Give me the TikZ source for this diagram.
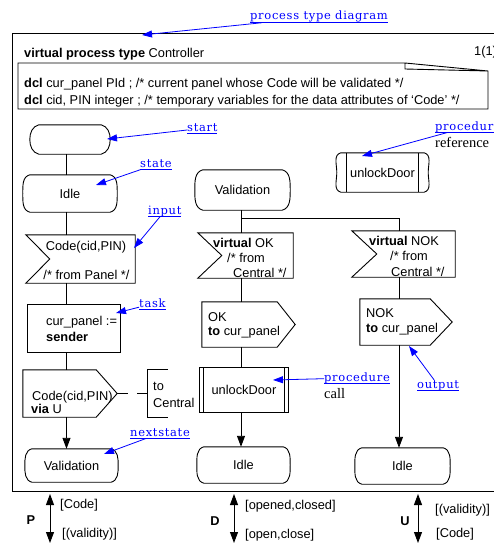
\documentclass[tikz,border=0pt]{standalone}
\usepackage{fontspec}
\setmainfont{Liberation Sans}
\newfontfamily\linkfont[LetterSpace=6]{DejaVu Serif}
\newfontfamily\notefont{Liberation Serif}
\usetikzlibrary{arrows.meta,calc}

% underlined hyperlink-like text
\newlength\lnkwd
\newcommand\lnk[1]{\settowidth\lnkwd{#1}\rlap{\rule[-2.4pt]{\lnkwd}{0.8pt}}#1}

% SDL symbol outlines drawn around invisible nodes
\newcommand\stateoutline[2]{%
  \draw[outline] ([xshift=#2]#1.north west) to[out=195,in=90] (#1.west)
    to[out=-90,in=165] ([xshift=#2]#1.south west) -- ([xshift=-#2]#1.south east)
    to[out=15,in=-90] (#1.east) to[out=90,in=-15] ([xshift=-#2]#1.north east) -- cycle;}
\newcommand\inputoutline[2]{%
  \draw[outline] (#1.north west) -- (#1.north east) -- (#1.south east)
    -- (#1.south west) -- ([xshift=#2]#1.west) -- cycle;}
\newcommand\outputoutline[2]{%
  \draw[outline] (#1.north west) -- ([xshift=-#2]#1.north east) -- (#1.east)
    -- ([xshift=-#2]#1.south east) -- (#1.south west) -- cycle;}

\tikzset{
  lbl/.style={inner sep=0pt, font=\fontsize{12.8}{15}\selectfont},
  sym/.style={draw=none, inner sep=0pt},
  link/.style={inner sep=0pt, text=blue, anchor=base west,
    font=\linkfont\fontsize{11.5}{14}\selectfont},
  note/.style={inner sep=0pt, anchor=base west, font=\notefont\fontsize{14.5}{17}\selectfont},
  pointer/.style={draw=blue, line width=0.8pt, -{Triangle[width=7pt,length=10pt]}},
  outline/.style={line width=0.9pt},
  flow/.style={line width=0.9pt},
  flowarrow/.style={flow, -{Triangle[width=8pt,length=11pt]}},
  chan/.style={flow, {Triangle[width=8pt,length=11pt]}-{Triangle[width=8pt,length=11pt]}},
}

\begin{document}
\begin{tikzpicture}[x=1pt,y=-1pt]
\useasboundingbox (0,0) rectangle (493,543);

% diagram frame
\draw[outline] (500,33) -- (12,33) -- (12,491.5) -- (500,491.5);
\node[lbl, anchor=base west] (hdr) at (24,57) {\textbf{virtual process type} Controller};
\node[lbl, anchor=base west] (pgno) at (474,56) {1(1)};

% declarations in a text symbol
\draw[outline] (405,63) -- (18,63) -- (18,109) -- (488,109) -- (488,71) -- (405,63) -- (405,69) -- (488,71);
\node[lbl, anchor=base west] (dclA) at (24,87) {\textbf{dcl} cur\_panel PId ; /* current panel whose Code will be validated */};
\node[lbl, anchor=base west] (dclB) at (24,104) {\textbf{dcl} cid, PIN integer ; /* temporary variables for the data attributes of `Code' */};

% column axes
\coordinate (colA) at (66.5,0);
\coordinate (colB) at (241,0);
\coordinate (colC) at (399,0);

% ---- first transition: Idle --Code--> Validation
\node[sym, minimum width=80, minimum height=29] (start) at (70,139.5) {};
\stateoutline{start}{9}

\node[sym, lbl, minimum width=94, minimum height=37] (idleA) at (70,193.5) {Idle};
\stateoutline{idleA}{7}

\node[sym, minimum width=109, minimum height=48] (inA) at (80.5,259) {};
\inputoutline{inA}{24}
\node[lbl, anchor=base] (inAa) at (86,250) {Code(cid,PIN)};
\node[lbl, anchor=base] (inAb) at (86.5,279) {/* from Panel */};

\node[sym, minimum width=92, minimum height=47] (task) at (74,328.5) {};
\draw[outline] (task.north west) rectangle (task.south east);
\node[lbl, anchor=base west] (taskA) at (46,325) {cur\_panel :=};
\node[lbl, anchor=base west] (taskB) at (46,341) {\textbf{sender}};

\node[sym, minimum width=94, minimum height=47] (outA) at (70,393.5) {};
\outputoutline{outA}{21}
\node[lbl, anchor=base west] (outAa) at (32,400) {Code(cid,PIN)};
\node[lbl, anchor=base west] (outAb) at (31,413) {\textbf{via} U};

\node[sym, minimum width=20, minimum height=47] (cmt) at (158,393.5) {};
\draw[outline] (cmt.north east) -- (cmt.north west) -- (cmt.south west) -- (cmt.south east);
\node[lbl, anchor=base west] (cmtA) at (153,390) {to};
\node[lbl, anchor=base west] (cmtB) at (153,407) {Central};
\draw[flow, dash pattern=on 11pt off 9pt] (outA.east) -- (cmt.west);

\node[sym, lbl, minimum width=93, minimum height=33] (nsA) at (71.5,465.5) {Validation};
\stateoutline{nsA}{7}

\draw[flow] (start.south -| colA) -- (idleA.north -| colA);
\draw[flow] (idleA.south -| colA) -- (inA.north -| colA);
\draw[flow] (inA.south -| colA) -- (task.north -| colA);
\draw[flow] (task.south -| colA) -- (outA.north -| colA);
\draw[flowarrow] (outA.south -| colA) -- (nsA.north -| colA);

% ---- second transition: Validation --OK / NOK-->
\node[sym, lbl, minimum width=95, minimum height=40] (valB) at (242.5,190) {Validation};
\stateoutline{valB}{8}

\node[sym, minimum width=95, minimum height=45] (okIn) at (245.5,255.5) {};
\inputoutline{okIn}{24}
\node[lbl, anchor=base west] (okA) at (213,247) {\textbf{virtual} OK};
\node[lbl, anchor=base west] (okB) at (227,262) {/* from};
\node[lbl, anchor=base west] (okC) at (233,277) {Central */};

\node[sym, minimum width=103, minimum height=46] (nokIn) at (403.5,254) {};
\inputoutline{nokIn}{25}
\node[lbl, anchor=base west] (nokA) at (369,245) {\textbf{virtual} NOK};
\node[lbl, anchor=base west] (nokB) at (390,260) {/* from};
\node[lbl, anchor=base west] (nokC) at (391,276) {Central */};

\node[sym, minimum width=93, minimum height=45] (okOut) at (248.5,324.5) {};
\outputoutline{okOut}{18}
\node[lbl, anchor=base west] (okOa) at (208,321) {OK};
\node[lbl, anchor=base west] (okOb) at (208,335) {\textbf{to} cur\_panel};

\node[sym, minimum width=92, minimum height=46] (nokOut) at (406,322) {};
\outputoutline{nokOut}{22}
\node[lbl, anchor=base west] (nokOa) at (366,317) {NOK};
\node[lbl, anchor=base west] (nokOb) at (366,332) {\textbf{to} cur\_panel};

\node[sym, lbl, minimum width=88, minimum height=44] (callB) at (244,390) {unlockDoor};
\draw[outline] (callB.north west) rectangle (callB.south east);
\draw[outline] ([xshift=3.3]callB.north west) -- ([xshift=3.3]callB.south west);
\draw[outline] ([xshift=-3.3]callB.north east) -- ([xshift=-3.3]callB.south east);

\node[sym, lbl, minimum width=93, minimum height=36] (idleB) at (243.5,465) {Idle};
\stateoutline{idleB}{7}
\node[sym, lbl, minimum width=95, minimum height=36] (idleC) at (402.5,466) {Idle};
\stateoutline{idleC}{7}

\node[sym, lbl, minimum width=91, minimum height=39] (prefB) at (382.5,172.5) {unlockDoor};
\stateoutline{prefB}{4}
\draw[outline] ([xshift=10]prefB.north west) -- ([xshift=10]prefB.south west);
\draw[outline] ([xshift=-10]prefB.north east) -- ([xshift=-10]prefB.south east);

\coordinate (fork) at (241,218);
\draw[flow] (valB.south -| colB) -- (okIn.north -| colB);
\draw[flow] (fork) -| (nokIn.north -| colC);
\draw[flow] (okIn.south -| colB) -- (okOut.north -| colB);
\draw[flow] (okOut.south -| colB) -- (callB.north -| colB);
\draw[flowarrow] (callB.south -| colB) -- (idleB.north -| colB);
\draw[flow] (nokIn.south -| colC) -- (nokOut.north -| colC);
\draw[flowarrow] (nokOut.south -| colC) -- (idleC.north -| colC);

% ---- explanatory links
\node[link] (lkPTD) at (250,20) {\lnk{process type diagram}};
\node[link] (lkStart) at (187,131) {\lnk{start}};
\node[link] (lkState) at (140,167) {\lnk{state}};
\node[link] (lkInput) at (148,214) {\lnk{input}};
\node[link] (lkTask) at (139,307) {\lnk{task}};
\node[link] (lkNext) at (130,436) {\lnk{nextstate}};
\node[link] (lkCall) at (324,381) {\lnk{procedure}};
\node[note] (ntCall) at (324,398) {call};
\node[link] (lkOut) at (417,388) {\lnk{output}};
\node[link] (lkRef) at (435,130) {\lnk{procedure}};
\node[note] (ntRef) at (435,147) {reference};

\coordinate (hPTD) at (142,35);
\coordinate (hStart) at (107,139);
\coordinate (hState) at (96,185);
\coordinate (hInput) at (134,248);
\coordinate (hTask) at (116,313);
\coordinate (hNext) at (104,454);
\coordinate (hCall) at (273,380);
\coordinate (hOut) at (409,346);
\coordinate (hRef) at (362,156);

\draw[pointer] (lkPTD) -- (hPTD);
\draw[pointer] (lkStart) -- (hStart);
\draw[pointer] (lkState) -- (hState);
\draw[pointer] (lkInput) -- (hInput);
\draw[pointer] (lkTask) -- (hTask);
\draw[pointer] (lkNext) -- (hNext);
\draw[pointer] (lkCall) -- (hCall);
\draw[pointer] (lkOut) -- (hOut);
\draw[pointer] (lkRef) -- (hRef);

% ---- channels at the frame border
\coordinate (chPa) at (50,494);  \coordinate (chPb) at (50,543);
\coordinate (chDa) at (234,494); \coordinate (chDb) at (234,543);
\coordinate (chUa) at (418,494); \coordinate (chUb) at (418,543);
\draw[chan] (chPa) -- (chPb);
\draw[chan] (chDa) -- (chDb);
\draw[chan] (chUa) -- (chUb);

\node[lbl, anchor=base] (chP) at (31,524) {\textbf{P}};
\node[lbl, anchor=base west] (chPin) at (60,508) {[Code]};
\node[lbl, anchor=base west] (chPout) at (62,537) {[(validity)]};
\node[lbl, anchor=base] (chD) at (215,525) {\textbf{D}};
\node[lbl, anchor=base west] (chDin) at (245,509) {[opened,closed]};
\node[lbl, anchor=base west] (chDout) at (245,538) {[open,close]};
\node[lbl, anchor=base] (chU) at (405,525) {\textbf{U}};
\node[lbl, anchor=base west] (chUin) at (435,513) {[(validity)]};
\node[lbl, anchor=base west] (chUout) at (436,537) {[Code]};
\end{tikzpicture}
\end{document}
